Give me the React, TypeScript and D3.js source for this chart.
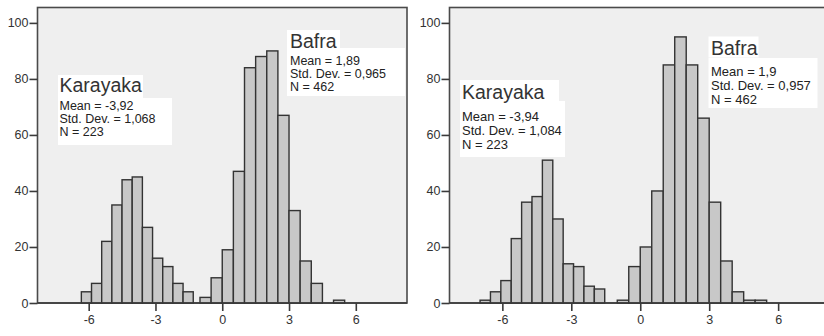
import React, { useEffect, useRef } from 'react';
import * as d3 from 'd3';

const xTicks = [-6, -3, 0, 3, 6];
const yTicks = [0, 20, 40, 60, 80, 100];
const xDomain = [-8.3, 8.3];
const yMax = 105.5;

// left panel
const leftKarayakaStart = -6.33;
const leftKarayakaWidth = 0.457;
const leftKarayakaCounts = [4, 7, 22, 35, 44, 45, 27, 16, 13, 7, 4];
const leftBafraStart = -1.0;
const leftBafraWidth = 0.5;
const leftBafraCounts = [2, 9, 19, 47, 84, 88, 90, 67, 33, 15, 7, 0, 1];
const leftKarayakaStats = ['Mean = -3,92', 'Std. Dev. = 1,068', 'N = 223'];
const leftBafraStats = ['Mean = 1,89', 'Std. Dev. = 0,965', 'N = 462'];

// right panel
const rightKarayakaStart = -6.97;
const rightKarayakaWidth = 0.452;
const rightKarayakaCounts = [1, 4, 8, 23, 36, 38, 51, 30, 14, 13, 6, 5];
const rightBafraStart = -1.0;
const rightBafraWidth = 0.5;
const rightBafraCounts = [1, 13, 20, 40, 85, 95, 85, 66, 36, 15, 4, 1, 1];
const rightKarayakaStats = ['Mean = -3,94', 'Std. Dev. = 1,084', 'N = 223'];
const rightBafraStats = ['Mean = 1,9', 'Std. Dev. = 0,957', 'N = 462'];

const FONT = '"Liberation Sans", Arial, sans-serif';

const panels = [
  {
    left: 37.5, right: 407, top: 7.5, bottom: 303,
    groups: [
      { start: leftKarayakaStart, width: leftKarayakaWidth, counts: leftKarayakaCounts },
      { start: leftBafraStart, width: leftBafraWidth, counts: leftBafraCounts },
    ],
    notes: [
      { title: 'Karayaka', stats: leftKarayakaStats, tx: 59.5, ty: 92, titleBox: [58, 75, 85, 23],
        statsBox: [58, 98, 114, 47], sy: 110, step: 12.8, size: 12.5 },
      { title: 'Bafra', stats: leftBafraStats, tx: 290, ty: 47.5, titleBox: [287, 30, 53, 18],
        statsBox: [287, 48, 118, 48], sy: 64.5, step: 13, size: 12.5 },
    ],
  },
  {
    left: 449.5, right: 831, top: 7.5, bottom: 303,
    groups: [
      { start: rightKarayakaStart, width: rightKarayakaWidth, counts: rightKarayakaCounts },
      { start: rightBafraStart, width: rightBafraWidth, counts: rightBafraCounts },
    ],
    notes: [
      { title: 'Karayaka', stats: rightKarayakaStats, tx: 462, ty: 99, titleBox: [460, 80, 99, 21],
        statsBox: [460, 101, 105, 56], sy: 121, step: 14, size: 13 },
      { title: 'Bafra', stats: rightBafraStats, tx: 711, ty: 55, titleBox: [708.5, 36.5, 50, 21],
        statsBox: [708.5, 58, 109, 50], sy: 75.5, step: 14, size: 13 },
    ],
  },
];

const App = () => {
  const svgRef = useRef<SVGSVGElement>(null);

  useEffect(() => {
    const svg = d3.select(svgRef.current);
    svg.selectAll('*').remove();

    panels.forEach(p => {
      const x = d3.scaleLinear().domain(xDomain).range([p.left, p.right]);
      const y = d3.scaleLinear().domain([0, yMax]).range([p.bottom, p.top]);
      const g = svg.append('g');

      g.append('rect')
        .attr('x', p.left).attr('y', p.top)
        .attr('width', p.right - p.left).attr('height', p.bottom - p.top)
        .attr('fill', '#efefef').attr('stroke', '#4a4a4a').attr('stroke-width', 1.6);

      p.groups.forEach(grp => {
        const bins = grp.counts
          .map((c, i) => ({ x0: grp.start + i * grp.width, x1: grp.start + (i + 1) * grp.width, c }))
          .filter(b => b.c > 0);
        g.selectAll(null)
          .data(bins)
          .enter()
          .append('rect')
          .attr('x', b => x(b.x0))
          .attr('y', b => y(b.c))
          .attr('width', b => x(b.x1) - x(b.x0))
          .attr('height', b => y(0) - y(b.c))
          .attr('fill', '#c8c8c8')
          .attr('stroke', '#333')
          .attr('stroke-width', 1.4);
      });

      // baseline over bars
      g.append('line')
        .attr('x1', p.left).attr('x2', p.right)
        .attr('y1', p.bottom).attr('y2', p.bottom)
        .attr('stroke', '#3a3a3a').attr('stroke-width', 1.6);

      const yAxis = g.append('g')
        .attr('transform', `translate(${p.left},0)`)
        .call(d3.axisLeft(y).tickValues(yTicks).tickSize(8).tickPadding(1).tickFormat(d => String(d)));
      const xAxis = g.append('g')
        .attr('transform', `translate(0,${p.bottom})`)
        .call(d3.axisBottom(x).tickValues(xTicks).tickSize(8).tickPadding(4).tickFormat(d => String(d)));
      [yAxis, xAxis].forEach(a => {
        a.select('.domain').remove();
        a.selectAll('line').attr('stroke', '#3a3a3a').attr('stroke-width', 1.6);
        a.selectAll('text')
          .attr('fill', '#333')
          .style('font-family', FONT)
          .style('font-size', '12.5px');
      });

      p.notes.forEach(n => {
        g.append('rect')
          .attr('x', n.titleBox[0]).attr('y', n.titleBox[1])
          .attr('width', n.titleBox[2]).attr('height', n.titleBox[3])
          .attr('fill', '#ffffff');
        g.append('rect')
          .attr('x', n.statsBox[0]).attr('y', n.statsBox[1])
          .attr('width', n.statsBox[2]).attr('height', n.statsBox[3])
          .attr('fill', '#ffffff');
        g.append('text')
          .attr('x', n.tx).attr('y', n.ty)
          .attr('fill', '#333')
          .style('font-family', FONT)
          .style('font-size', '19.5px')
          .text(n.title);
        n.stats.forEach((s, i) => {
          g.append('text')
            .attr('x', n.tx).attr('y', n.sy + i * n.step)
            .attr('fill', '#222')
            .style('font-family', FONT)
            .style('font-size', `${n.size}px`)
            .text(s);
        });
      });
    });
  }, []);

  return (
    <svg
      ref={svgRef}
      width={824}
      height={336}
      style={{ position: 'absolute', left: 0, top: 0, background: '#ffffff', display: 'block' }}
    />
  );
};

export default App;
